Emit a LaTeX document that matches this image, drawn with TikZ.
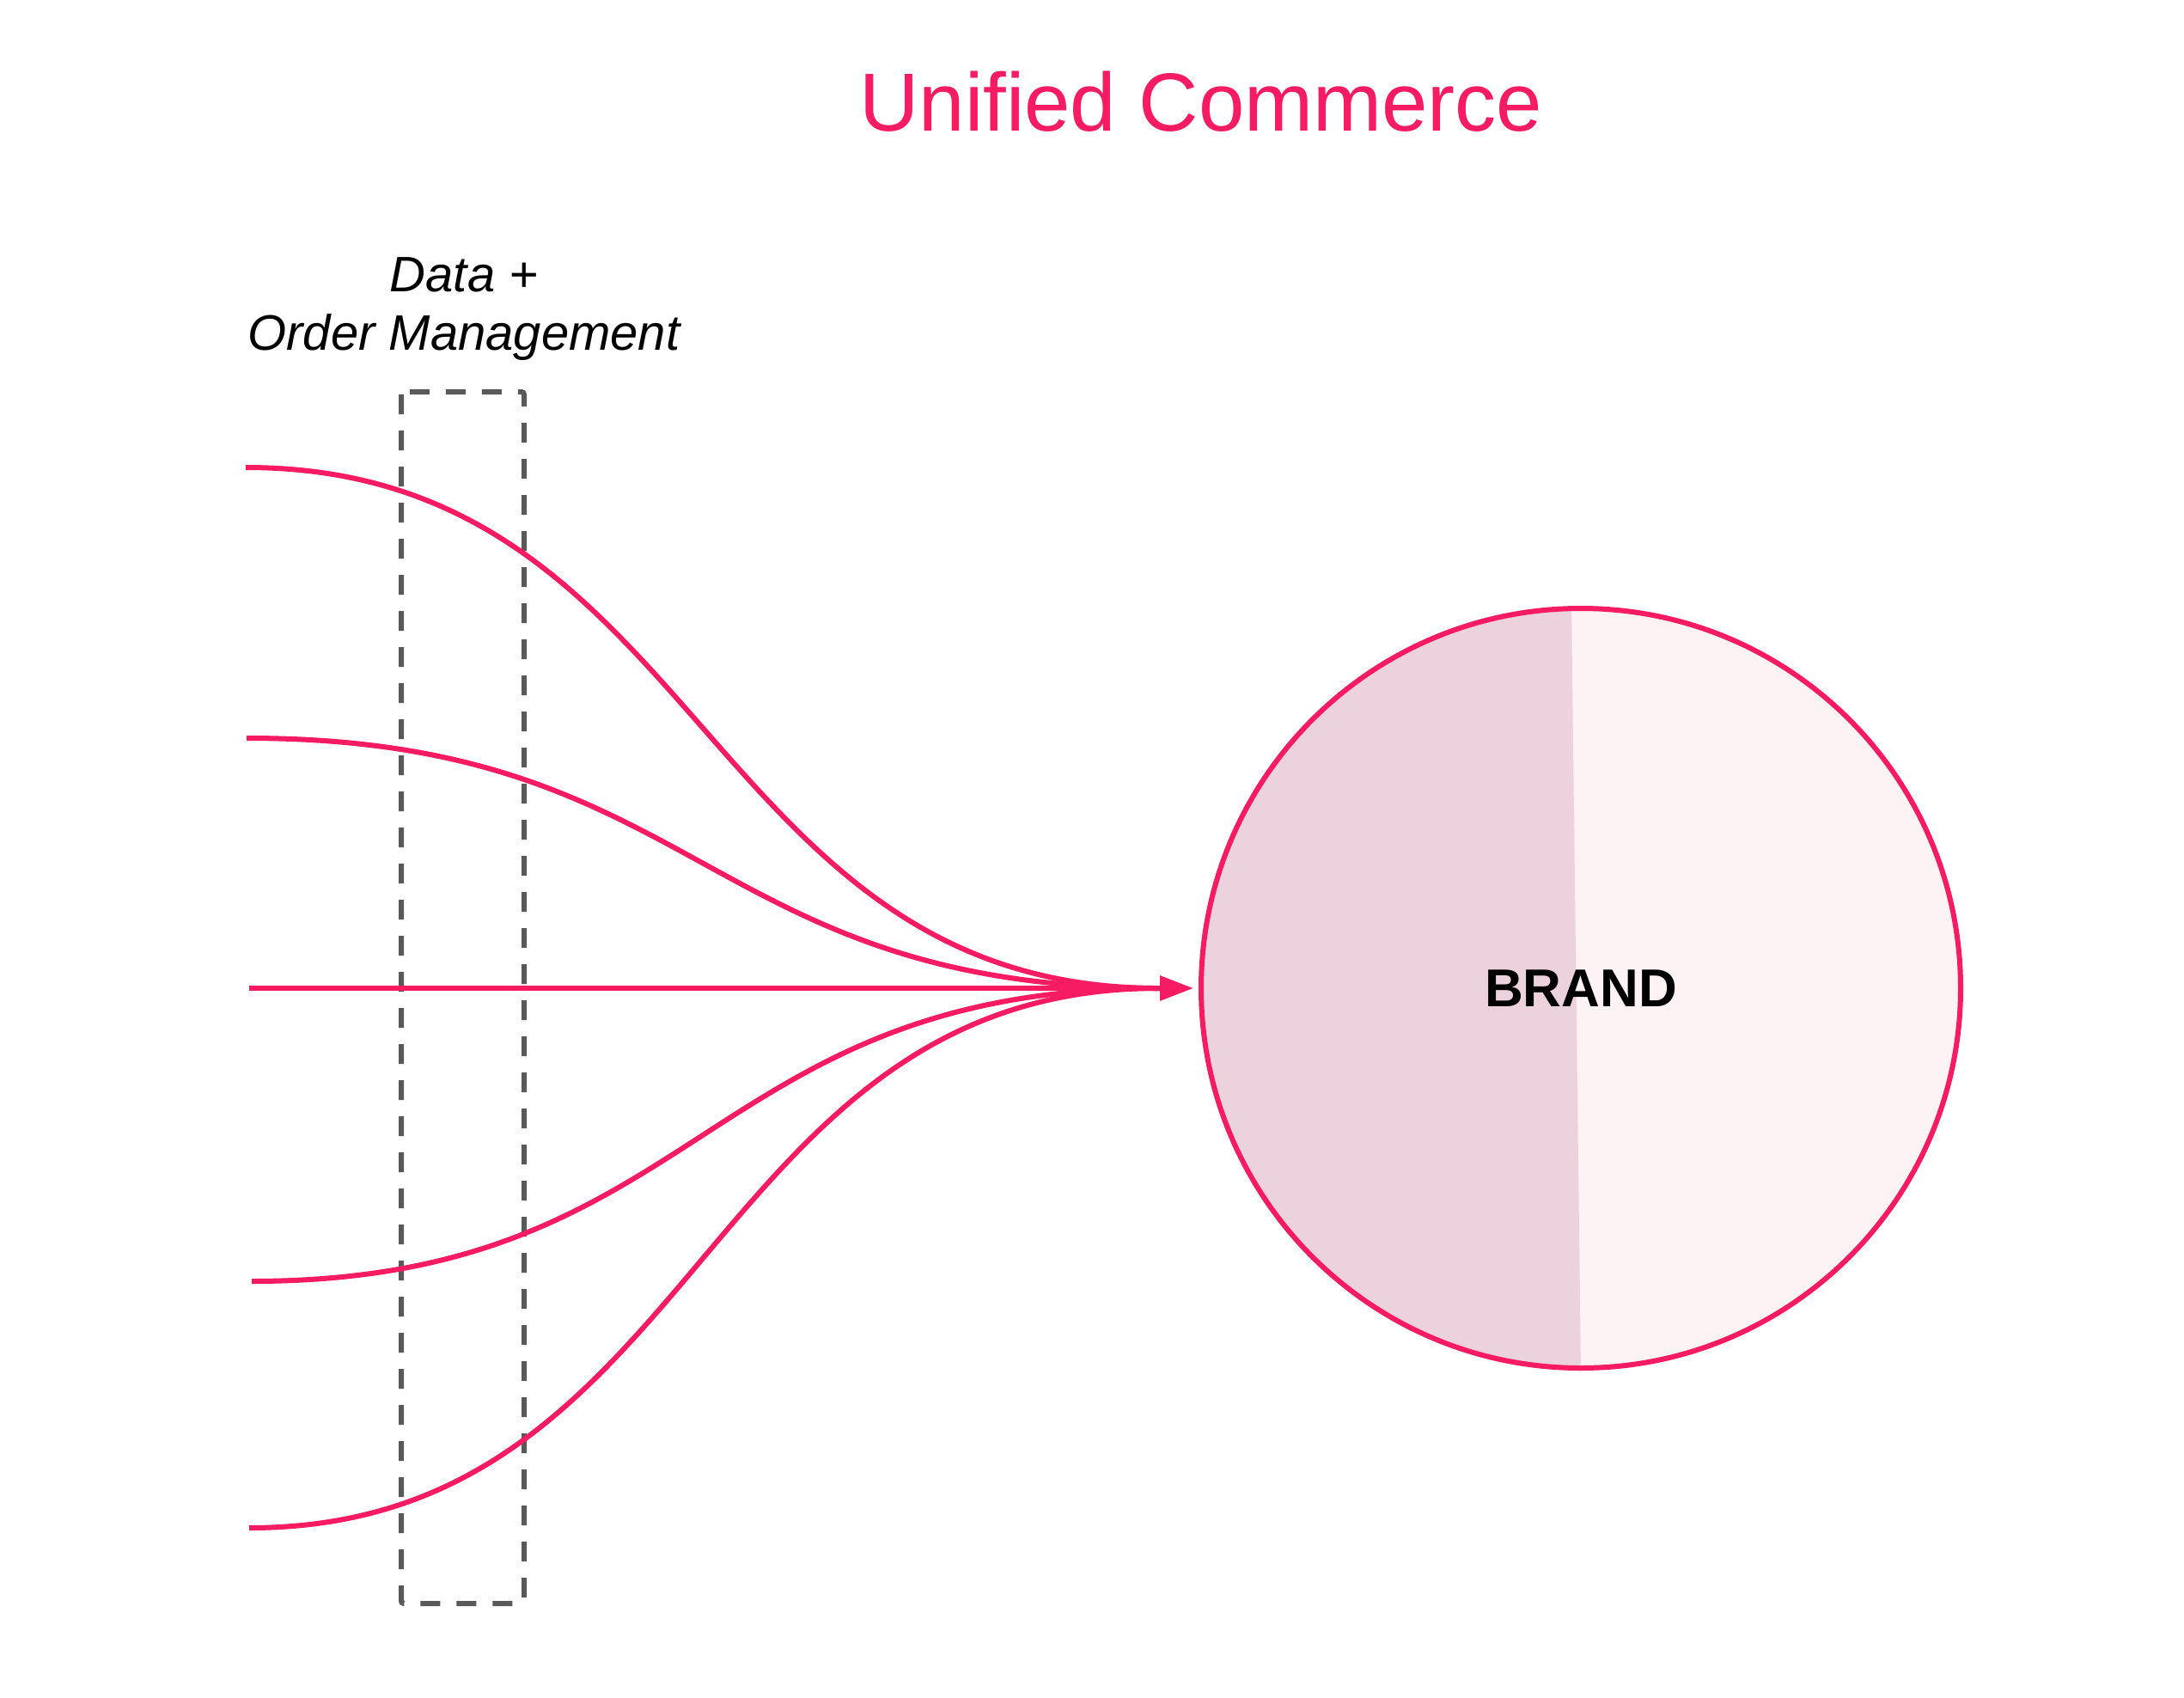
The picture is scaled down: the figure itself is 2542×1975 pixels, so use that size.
\documentclass[tikz,border=0pt]{standalone}
\usepackage{fontspec}
\setmainfont{Liberation Sans}
\usetikzlibrary{arrows.meta}
\definecolor{pinkline}{RGB}{246,27,99}
\definecolor{leftfill}{RGB}{235,210,221}
\definecolor{rightfill}{RGB}{253,242,244}
\definecolor{boxgray}{RGB}{89,89,89}
\tikzset{
  flow/.style={draw=pinkline, line width=6pt},
  omsbox/.style={draw=boxgray, line width=6pt, dash pattern=on 23pt off 19pt, rounded corners=3pt},
}
\begin{document}
\begin{tikzpicture}[x=1pt,y=-1pt]
\useasboundingbox[fill=white] (0,0) rectangle (2542,1975);
% title
\node[anchor=base, text=pinkline, font=\fontsize{96}{115}\selectfont, inner sep=0pt] (title) at (1398,152) {Unified Commerce};
% label
\node[anchor=base, align=center, font=\fontsize{58}{68}\selectfont\itshape, inner sep=0pt] (oml) at (540,407) {Data +\\Order Management};
% dashed box
\draw[omsbox] (467,456) rectangle (610,1866);
\node[inner sep=0pt, minimum width=143pt, minimum height=1410pt] (box) at (538.5,1161) {};
% brand circle
\node[circle, minimum size=884pt, inner sep=0pt] (brand) at (1840,1150) {};
\fill[rightfill] (brand.center) circle[radius=442pt];
\begin{scope}
  \clip (brand.center) circle[radius=442pt];
  \fill[leftfill] (1300,600) -- (1827.7,600) -- (1841.3,1700) -- (1300,1700) -- cycle;
\end{scope}
\draw[pinkline, line width=6pt] (brand.center) circle[radius=442pt];
\node[font=\fontsize{62}{74}\selectfont\bfseries] (brandtext) at (brand.center) {BRAND};
% connectors
\coordinate (s1) at (286,544);
\coordinate (s2) at (287,859);
\coordinate (s3) at (290,1150);
\coordinate (s4) at (293,1491);
\coordinate (s5) at (290,1778);
\coordinate (m) at (1349,1150);
\coordinate (tip) at (1389,1150);
\draw[flow] (s1) .. controls (818,544) and (818,1150) .. (m);
\draw[flow] (s2) .. controls (818,859) and (818,1150) .. (m);
\draw[flow] (s4) .. controls (818,1491) and (818,1150) .. (m);
\draw[flow] (s5) .. controls (818,1778) and (818,1150) .. (m);
\draw[flow, -{Triangle[length=39pt,width=28pt]}] (s3) -- (tip);
\end{tikzpicture}
\end{document}
